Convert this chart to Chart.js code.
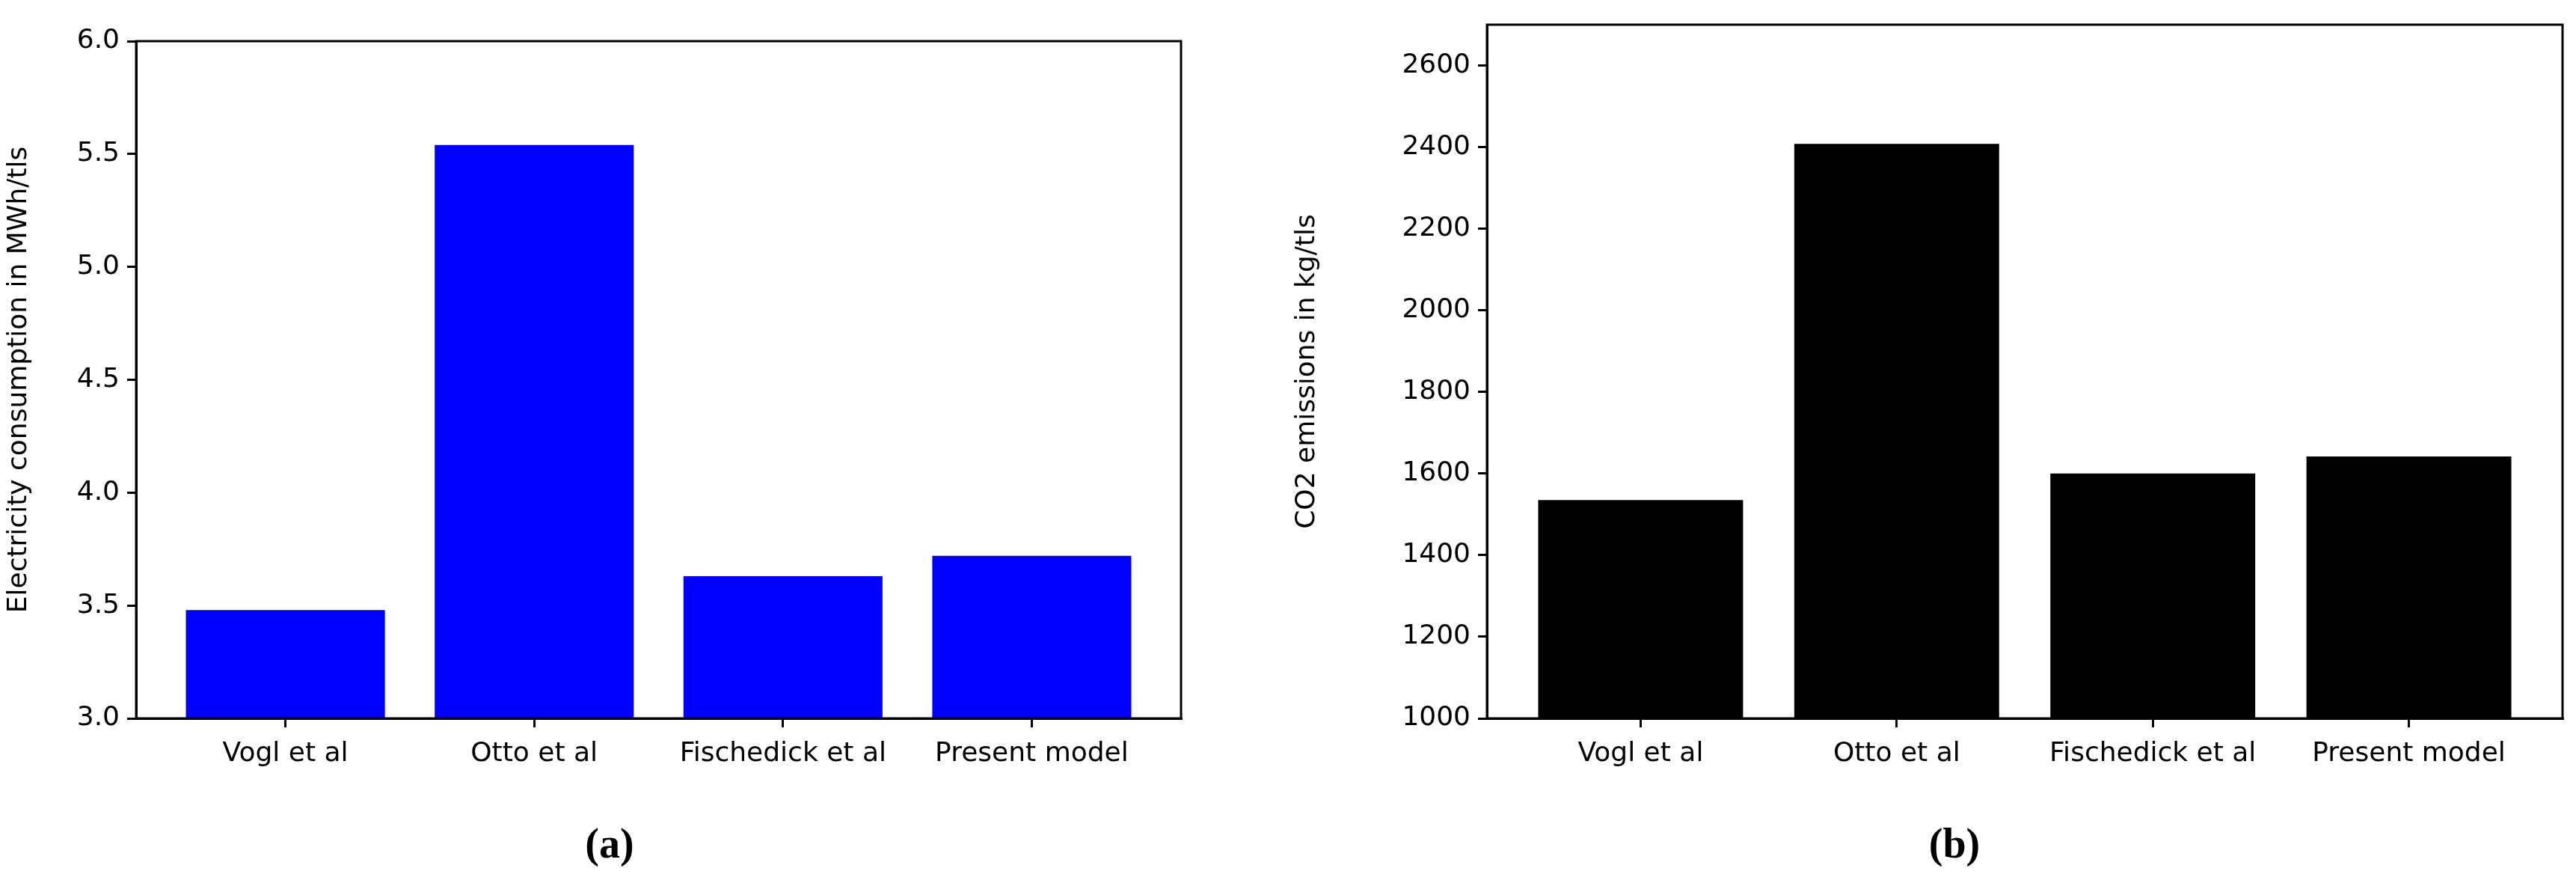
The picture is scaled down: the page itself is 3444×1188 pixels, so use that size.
<!DOCTYPE html>
<html><head><meta charset="utf-8">
<script src="https://cdn.jsdelivr.net/npm/chart.js@4"></script>
<style>
body{margin:0;width:3444px;height:1188px;background:#fff;position:relative;overflow:hidden}
.box{position:absolute;top:0;height:1070px}
.cap{position:absolute;top:1095px;font:bold 56px "Liberation Serif",serif;transform:translateX(-50%)}
</style></head><body>
<div class="box" style="left:0;width:1600px"><canvas id="c1"></canvas></div>
<div class="box" style="left:1722px;width:1722px"><canvas id="c2"></canvas></div>
<div class="cap" style="left:815px">(<span>a</span>)</div>
<div class="cap" style="left:2613px">(<span>b</span>)</div>
<script>
const categories=["Vogl et al","Otto et al","Fischedick et al","Present model"];
const electricity=[3.48,5.54,3.63,3.72];
const co2=[1535,2408,1600,1642];
const elecTicks=[3.0,3.5,4.0,4.5,5.0,5.5,6.0];
const co2Ticks=[1000,1200,1400,1600,1800,2000,2200,2400,2600];

const frame={id:'frame',afterDraw(c){const a=c.chartArea,x=c.ctx;x.save();x.strokeStyle='#000';x.lineWidth=3;x.strokeRect(a.left,a.top,a.right-a.left,a.bottom-a.top);x.restore();}};
function make(id,vals,color,ymin,ymax,yt,title,yw,pad){
  new Chart(document.getElementById(id),{type:'bar',
    data:{datasets:[{data:vals.map((v,i)=>({x:i,y:v})),backgroundColor:color,categoryPercentage:1,barPercentage:0.8}]},
    options:{responsive:true,maintainAspectRatio:false,animation:false,
      layout:{padding:pad},
      plugins:{legend:{display:false},tooltip:{enabled:false}},
      scales:{
        x:{type:'linear',min:-0.6,max:3.6,offset:false,
          afterBuildTicks:s=>{s.ticks=[0,1,2,3].map(v=>({value:v}));},
          afterFit:s=>{s.height=110;},
          grid:{drawOnChartArea:false,offset:false,tickLength:12,color:'#000',lineWidth:3},border:{color:'#000',width:3},
          ticks:{color:'#000',font:{family:'DejaVu Sans',size:36},padding:14,maxRotation:0,autoSkip:false,callback:v=>categories[v]}},
        y:{min:ymin,max:ymax,
          afterBuildTicks:s=>{s.ticks=yt.map(v=>({value:v}));},
          afterFit:s=>{s.width=yw;},
          grid:{drawOnChartArea:false,tickLength:12,color:'#000',lineWidth:3},border:{color:'#000',width:3},
          ticks:{color:'#000',font:{family:'DejaVu Sans',size:36},padding:10,callback:v=>ymax<100?v.toFixed(1):v},
          title:{display:true,text:title,color:'#000',font:{family:'DejaVu Sans',size:36},padding:{bottom:4}}}
      }},plugins:[frame]});
}
make('c1',electricity,'#0000ff',3.0,6.0,elecTicks,'Electricity consumption in MWh/tls',182,{top:55,right:21,left:0,bottom:0});
make('c2',co2,'#000000',1000,2700,co2Ticks,'CO2 emissions in kg/tls',266,{top:33,right:18,left:0,bottom:0});
</script></body></html>
